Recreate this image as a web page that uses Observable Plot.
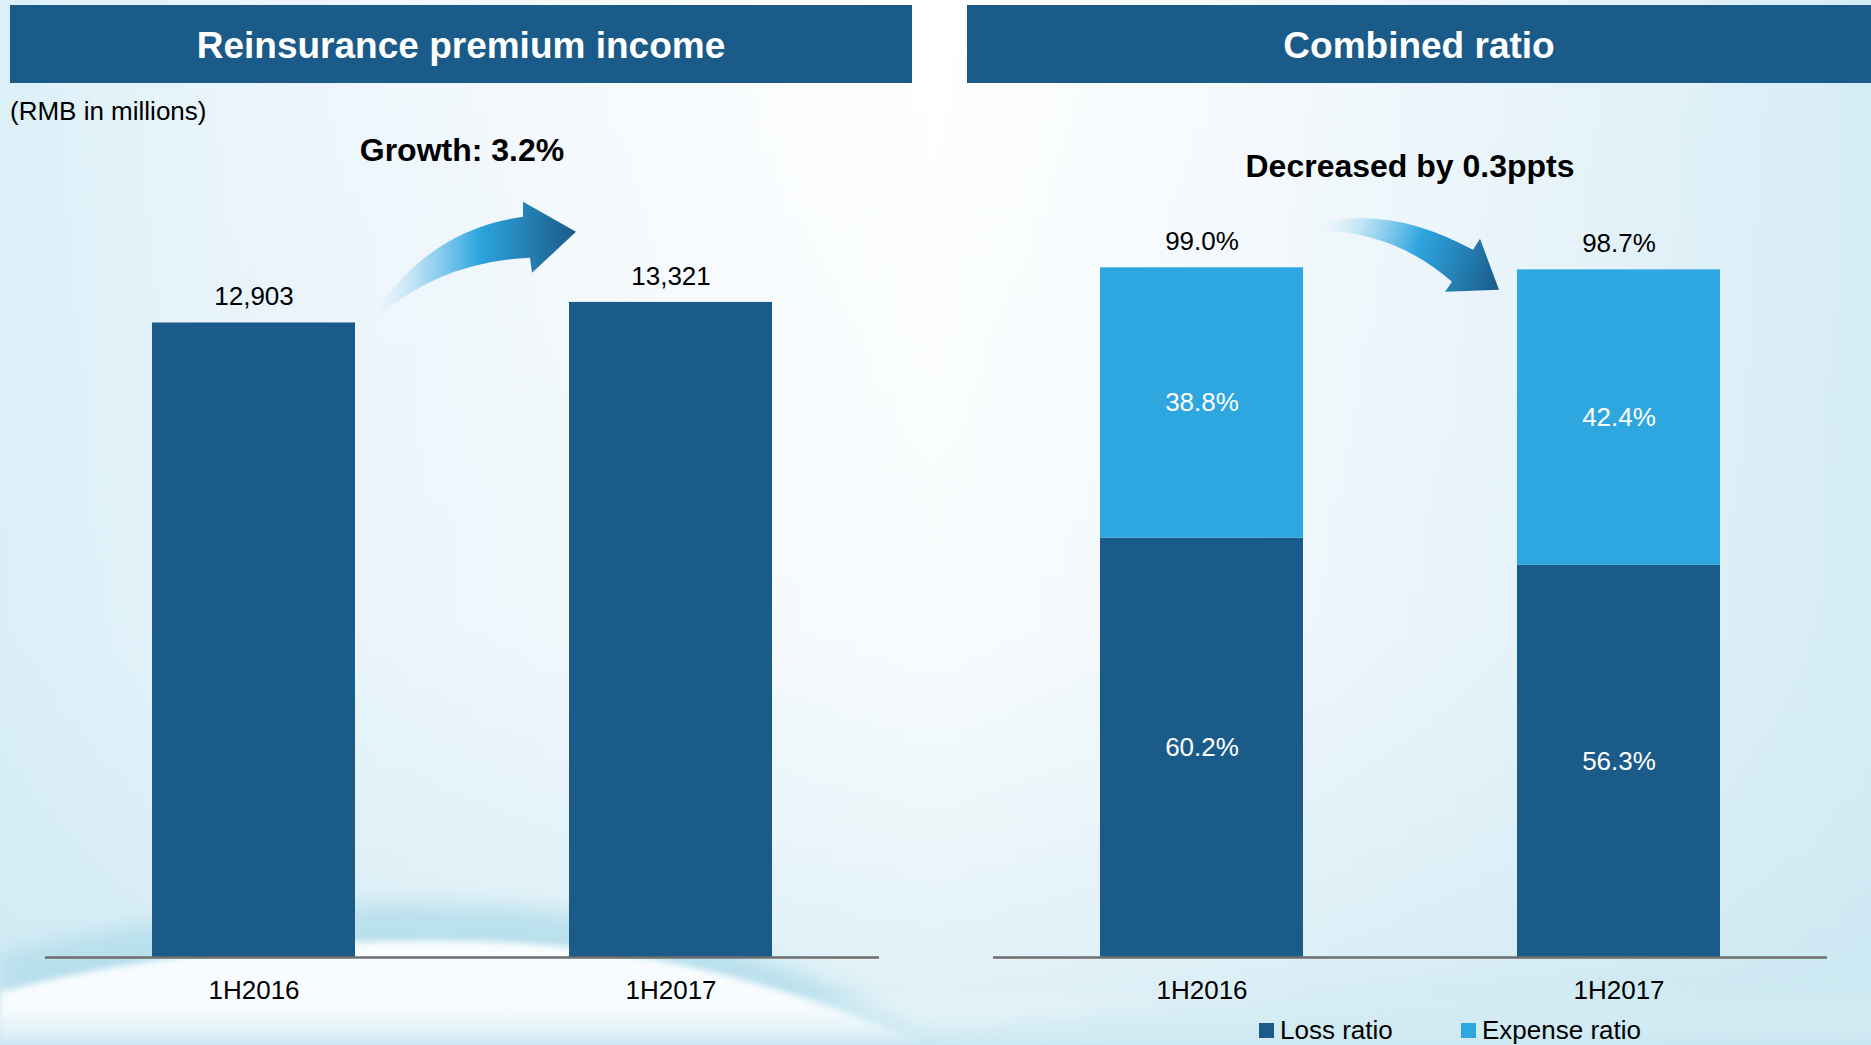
<!DOCTYPE html>
<html>
<head>
<meta charset="utf-8">
<script src="https://cdn.jsdelivr.net/npm/d3@7"></script>
<script src="https://cdn.jsdelivr.net/npm/@observablehq/plot@0.6"></script>
<style>
  html, body { margin:0; padding:0; width:1871px; height:1045px; overflow:hidden;
    font-family:"Liberation Sans", Arial, sans-serif; background:#fff; }
  #bg { position:absolute; left:0; top:0; }
  .hdr { position:absolute; top:5px; height:78px; background:#1a5b89; color:#fff;
    font-weight:bold; font-size:37px; display:flex; align-items:center; justify-content:center;
    box-sizing:border-box; padding-top:3px; }
  .note { position:absolute; color:#000; white-space:nowrap; }
  .chart { position:absolute; top:0; }
  .sq { position:absolute; width:15px; height:15px; }
</style>
</head>
<body>
<svg id="bg" width="1871" height="1045">
  <defs>
    <linearGradient id="bgH" x1="0" x2="1" y1="0" y2="0">
      <stop offset="0" stop-color="#dcf0f8"/>
      <stop offset="0.12" stop-color="#eaf5fb"/>
      <stop offset="0.38" stop-color="#fafcfe"/>
      <stop offset="0.5" stop-color="#ffffff"/>
      <stop offset="0.66" stop-color="#f6fafd"/>
      <stop offset="0.85" stop-color="#e6f3f9"/>
      <stop offset="1" stop-color="#d6edf6"/>
    </linearGradient>
    <linearGradient id="bgV" x1="0" x2="0" y1="0" y2="1">
      <stop offset="0" stop-color="#cfe9f3" stop-opacity="0"/>
      <stop offset="0.6" stop-color="#cfe9f3" stop-opacity="0.15"/>
      <stop offset="1" stop-color="#bfe2ee" stop-opacity="0.55"/>
    </linearGradient>
    <linearGradient id="bottomTint" x1="0" x2="0" y1="0" y2="1">
      <stop offset="0" stop-color="#ffffff" stop-opacity="0"/>
      <stop offset="1" stop-color="#c8e6f1" stop-opacity="0.9"/>
    </linearGradient>
    <filter id="blur"><feGaussianBlur stdDeviation="10"/></filter>
    <filter id="blur2"><feGaussianBlur stdDeviation="3"/></filter>
  </defs>
  <rect width="1871" height="1045" fill="url(#bgH)"/>
  <rect width="1871" height="1045" fill="url(#bgV)"/>
  <path d="M0,955 C150,915 340,895 520,908 C690,922 820,972 940,1045 L0,1045Z" fill="#b3deeb" opacity="0.85" filter="url(#blur)"/>
  <path d="M0,992 C150,952 330,936 500,942 C650,948 790,985 925,1045 L0,1045Z" fill="#f8fcfe" filter="url(#blur2)"/>
  <rect x="0" y="990" width="1871" height="55" fill="url(#bottomTint)"/>
  <path d="M930,1045 C1100,1000 1400,985 1871,960 L1871,1045Z" fill="#cde9f2" opacity="0.6" filter="url(#blur)"/>
</svg>

<div class="hdr" style="left:10px;width:902px;">Reinsurance premium income</div>
<div class="hdr" style="left:967px;width:904px;">Combined ratio</div>

<div id="leftChart" class="chart" style="left:0px;"></div>
<div id="rightChart" class="chart" style="left:948px;"></div>

<div class="note" style="left:10px;top:96px;font-size:26px;line-height:30px;">(RMB in millions)</div>
<div class="note" style="left:45px;width:834px;text-align:center;top:130px;font-size:32px;line-height:40px;font-weight:bold;">Growth: 3.2%</div>
<div class="note" style="left:993px;width:834px;text-align:center;top:146px;font-size:32px;line-height:40px;font-weight:bold;">Decreased by 0.3ppts</div>

<div id="legend"></div>

<script>
// ---- data ----
const periods = ["1H2016", "1H2017"];
const premiumIncome = [12903, 13321];
const premiumLabels = ["12,903", "13,321"];
const lossRatio = [60.2, 56.3];
const expenseRatio = [38.8, 42.4];
const combinedRatio = [99.0, 98.7];
const seriesNames = ["Loss ratio", "Expense ratio"];
const seriesColors = ["#1a5b89", "#2ea6e0"];

// ---- tables built from arrays ----
const premiumData = periods.map((p, i) => ({period: p, value: premiumIncome[i], label: premiumLabels[i]}));
const ratioData = periods.flatMap((p, i) => [
  {period: p, type: seriesNames[0], value: lossRatio[i]},
  {period: p, type: seriesNames[1], value: expenseRatio[i]}
]);
const totalData = periods.map((p, i) => ({period: p, value: combinedRatio[i]}));

const pct = v => v.toFixed(1) + "%";

const common = {
  height: 1045,
  marginTop: 121,
  marginBottom: 88,
  marginLeft: 45,
  x: {domain: periods, paddingInner: 0.513, paddingOuter: 0.2565, align: 0.5, label: null, axis: null},
  style: {background: "transparent", fontFamily: "'Liberation Sans', Arial, sans-serif",
          fontSize: "26px", color: "#000", overflow: "visible"}
};

const axis = Plot.axisX({tickSize: 0, tickPadding: 23, label: null, fontSize: 26});
const baseRule = Plot.ruleY([0], {stroke: "#6e6e6e", strokeWidth: 2.5});

const left = Plot.plot({
  ...common,
  width: 935,
  marginRight: 56,
  y: {domain: [0, 17000], axis: null},
  marks: [
    Plot.barY(premiumData, {x: "period", y: "value", fill: seriesColors[0]}),
    baseRule,
    Plot.text(premiumData, {x: "period", y: "value", text: "label", dy: -26, fill: "#000"}),
    axis
  ]
});

const right = Plot.plot({
  ...common,
  width: 923,
  marginRight: 44,
  y: {domain: [0, 120], axis: null},
  color: {domain: seriesNames, range: seriesColors},
  marks: [
    Plot.barY(ratioData, {x: "period", y: "value", fill: "type"}),
    baseRule,
    Plot.text(ratioData, Plot.stackY({x: "period", y: "value", text: d => pct(d.value), fill: "#fff"})),
    Plot.text(totalData, {x: "period", y: "value", text: d => pct(d.value), dy: -26, fill: "#000"}),
    axis
  ]
});

document.getElementById("leftChart").appendChild(left);
document.getElementById("rightChart").appendChild(right);

// ---- decorative curved arrows positioned from the plot scales ----
function addArrow(svg, id, A, shape, g0, g1, stops) {
  const s = d3.select(svg);
  const P = ([dx, dy]) => [A[0] + dx, A[1] + dy];
  const lg = s.append("defs").append("linearGradient").attr("id", id)
    .attr("gradientUnits", "userSpaceOnUse");
  const a = P(g0), b = P(g1);
  lg.attr("x1", a[0]).attr("y1", a[1]).attr("x2", b[0]).attr("y2", b[1]);
  stops.forEach(([o, c, op]) => lg.append("stop").attr("offset", o).attr("stop-color", c).attr("stop-opacity", op));
  const q = shape.map(P);
  const d = `M${q[0]}Q${q[1]} ${q[2]}L${q[3]}L${q[4]}L${q[5]}L${q[6]}Q${q[7]} ${q[8]}Z`;
  s.append("path").attr("d", d).attr("fill", `url(#${id})`);
}
const arrowStops = [[0, "#e8f5fc", 0.2], [0.25, "#9fd6f0", 0.85], [0.52, "#2ea6e0", 1], [1, "#1a5b89", 1]];

{
  const xs = left.scale("x"), ys = left.scale("y");
  const A = [xs.apply(periods[0]) + xs.bandwidth, ys.apply(premiumIncome[0])];
  addArrow(left, "gradL", A,
    [[17, -4.7], [72, -92.7], [168, -105.7], [168, -120.7], [221, -90.7], [177, -49.7], [175, -64.7], [85, -60.7], [22, -4.7]],
    [17, 0], [221, 0], arrowStops);
}
{
  const xs = right.scale("x"), ys = right.scale("y");
  const A = [xs.apply(periods[0]) + xs.bandwidth, ys.apply(combinedRatio[0])];
  addArrow(right, "gradR", A,
    [[17, -43.5], [87, -62.5], [170, -17.5], [177, -28.5], [196, 22.5], [142, 24.5], [149, 14.5], [92, -35.5], [17, -36.5]],
    [17, -40], [196, 22], arrowStops);
}

// ---- legend ----
const legend = document.getElementById("legend");
const legX = [[1259, 1280], [1461, 1482]];
seriesNames.forEach((name, i) => {
  const sq = document.createElement("div");
  sq.className = "sq";
  sq.style.left = legX[i][0] + "px";
  sq.style.top = "1023px";
  sq.style.background = seriesColors[i];
  legend.appendChild(sq);
  const t = document.createElement("div");
  t.className = "note";
  t.style.left = legX[i][1] + "px";
  t.style.top = "1015px";
  t.style.fontSize = "26px";
  t.style.lineHeight = "30px";
  t.textContent = name;
  legend.appendChild(t);
});
</script>
</body>
</html>
